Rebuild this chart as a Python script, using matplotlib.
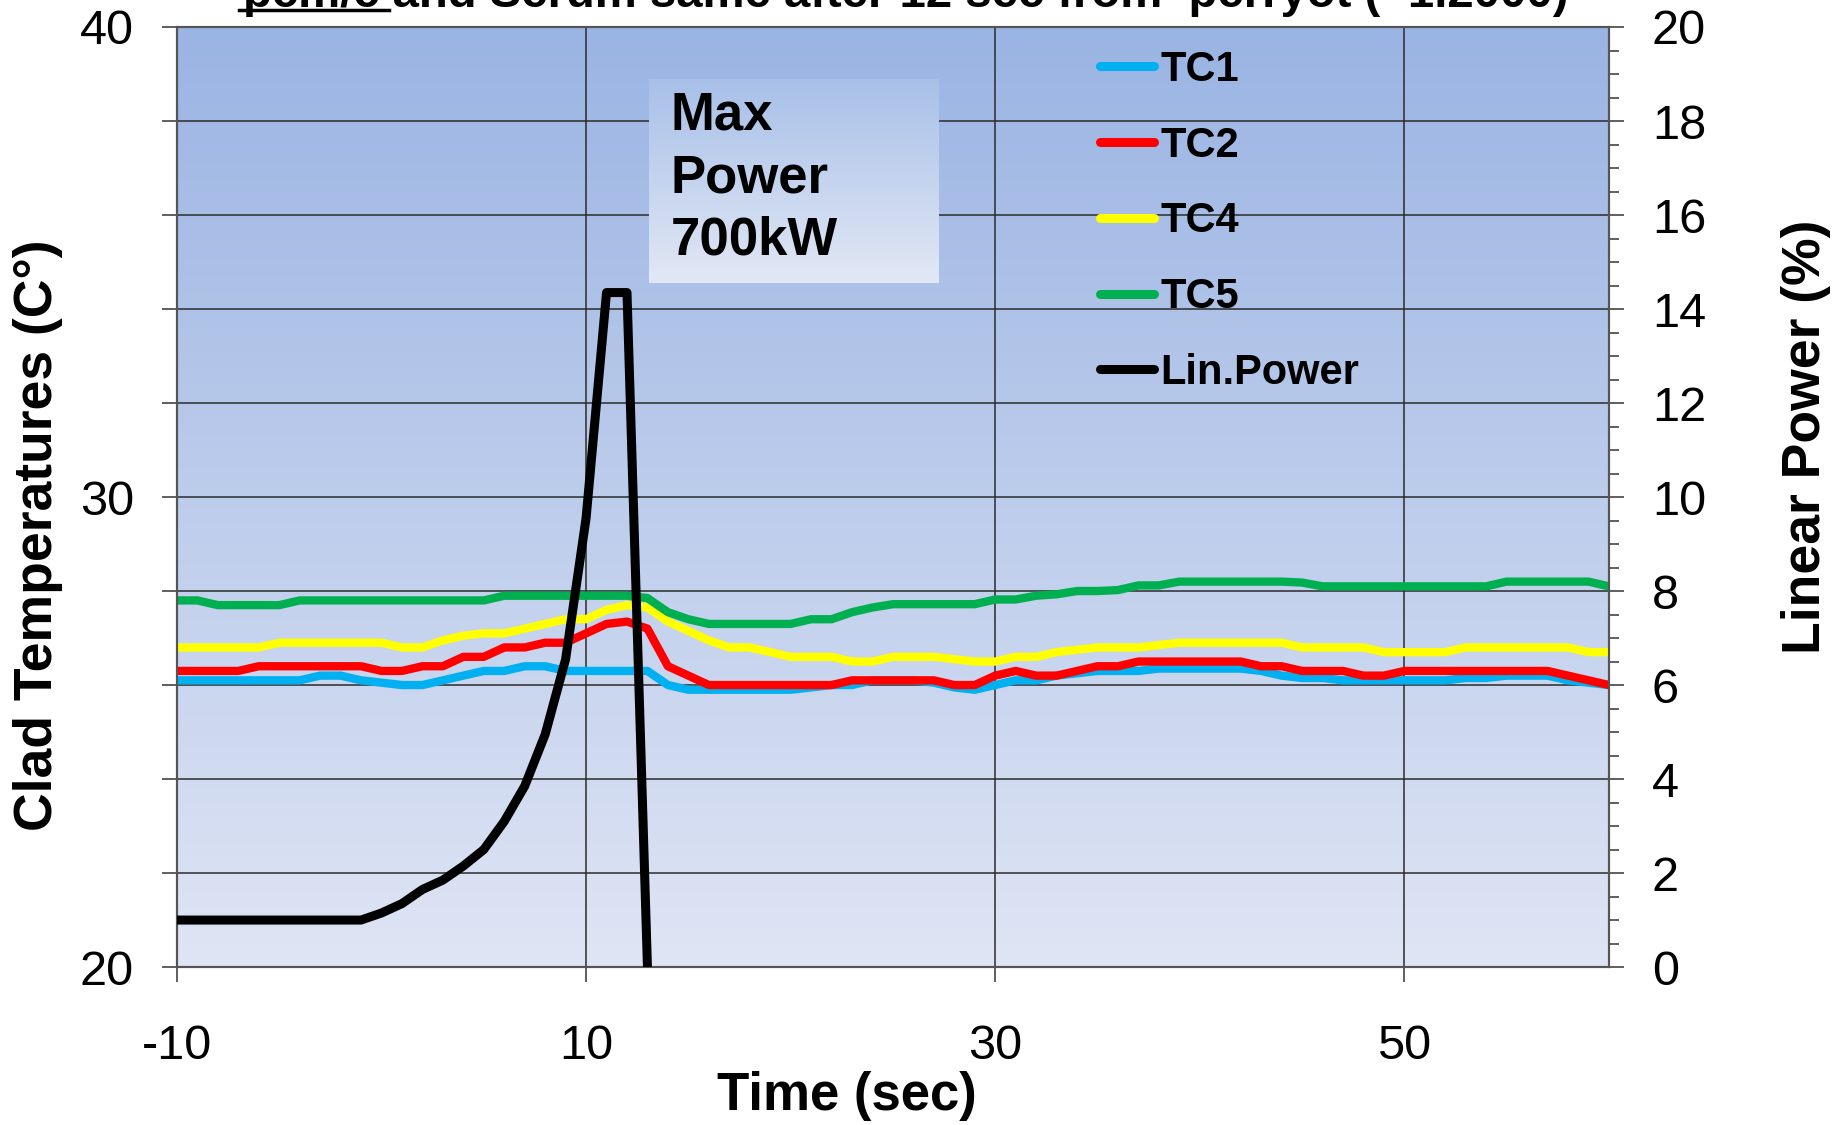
import numpy as np
import matplotlib
matplotlib.use('agg')
import matplotlib.pyplot as plt
from matplotlib.colors import LinearSegmentedColormap
from matplotlib.ticker import MultipleLocator

plt.rcParams['font.family'] = ['Liberation Sans', 'DejaVu Sans']
plt.rcParams['axes.unicode_minus'] = False

# clad temperatures, one reading per second
time_s = list(range(-10, 61))
tc1 = [26.1, 26.1, 26.1, 26.1, 26.1, 26.1, 26.1, 26.2, 26.2, 26.1,
       26.05, 26.0, 26.0, 26.1, 26.2, 26.3, 26.3, 26.4, 26.4, 26.3,
       26.3, 26.3, 26.3, 26.3, 26.0, 25.9, 25.9, 25.9, 25.9, 25.9,
       25.9, 25.95, 26.0, 26.0, 26.1, 26.1, 26.1, 26.05, 25.95, 25.9,
       26.0, 26.1, 26.1, 26.2, 26.25, 26.3, 26.3, 26.3, 26.35, 26.35,
       26.35, 26.35, 26.35, 26.3, 26.2, 26.15, 26.15, 26.1, 26.1, 26.1,
       26.1, 26.1, 26.1, 26.15, 26.15, 26.2, 26.2, 26.2, 26.1, 26.05,
       26.0]
tc2 = [26.3, 26.3, 26.3, 26.3, 26.4, 26.4, 26.4, 26.4, 26.4, 26.4,
       26.3, 26.3, 26.4, 26.4, 26.6, 26.6, 26.8, 26.8, 26.9, 26.9,
       27.1, 27.3, 27.35, 27.2, 26.4, 26.2, 26.0, 26.0, 26.0, 26.0,
       26.0, 26.0, 26.0, 26.1, 26.1, 26.1, 26.1, 26.1, 26.0, 26.0,
       26.2, 26.3, 26.2, 26.2, 26.3, 26.4, 26.4, 26.5, 26.5, 26.5,
       26.5, 26.5, 26.5, 26.4, 26.4, 26.3, 26.3, 26.3, 26.2, 26.2,
       26.3, 26.3, 26.3, 26.3, 26.3, 26.3, 26.3, 26.3, 26.2, 26.1,
       26.0]
tc4 = [26.8, 26.8, 26.8, 26.8, 26.8, 26.9, 26.9, 26.9, 26.9, 26.9,
       26.9, 26.8, 26.8, 26.95, 27.05, 27.1, 27.1, 27.2, 27.3, 27.4,
       27.4, 27.6, 27.7, 27.65, 27.35, 27.15, 26.95, 26.8, 26.8, 26.7,
       26.6, 26.6, 26.6, 26.5, 26.5, 26.6, 26.6, 26.6, 26.55, 26.5,
       26.5, 26.6, 26.6, 26.7, 26.75, 26.8, 26.8, 26.8, 26.85, 26.9,
       26.9, 26.9, 26.9, 26.9, 26.9, 26.8, 26.8, 26.8, 26.8, 26.7,
       26.7, 26.7, 26.7, 26.8, 26.8, 26.8, 26.8, 26.8, 26.8, 26.7,
       26.7]
tc5 = [27.8, 27.8, 27.7, 27.7, 27.7, 27.7, 27.8, 27.8, 27.8, 27.8,
       27.8, 27.8, 27.8, 27.8, 27.8, 27.8, 27.9, 27.9, 27.9, 27.9,
       27.9, 27.9, 27.9, 27.85, 27.55, 27.4, 27.3, 27.3, 27.3, 27.3,
       27.3, 27.4, 27.4, 27.55, 27.65, 27.72, 27.72, 27.72, 27.72, 27.72,
       27.82, 27.82, 27.9, 27.93, 28.0, 28.0, 28.02, 28.12, 28.12, 28.2,
       28.2, 28.2, 28.2, 28.2, 28.2, 28.18, 28.1, 28.1, 28.1, 28.1,
       28.1, 28.1, 28.1, 28.1, 28.1, 28.2, 28.2, 28.2, 28.2, 28.2,
       28.1]

# linear power (%)
time_power = [-10, -1, 0, 1, 2, 3, 4, 5, 6, 7, 8, 9, 10, 11, 12, 13]
lin_power = [1.0, 1.0, 1.15, 1.35, 1.65, 1.85, 2.15, 2.5, 3.1, 3.85,
             4.95, 6.55, 9.55, 14.35, 14.35, 0.0]

series = [("TC1", tc1, "#00B0F0"), ("TC2", tc2, "#FF0000"),
          ("TC4", tc4, "#FFFF00"), ("TC5", tc5, "#00B050")]

fig = plt.figure(figsize=(18.47, 11.25), dpi=100)
ax = fig.add_axes([0.0958, 0.1404, 0.7753, 0.8356])

# gradient plot background
bg = LinearSegmentedColormap.from_list('bg', ['#DFE5F4', '#9AB4E3'])
ax.imshow(np.linspace(1, 0, 256).reshape(-1, 1), cmap=bg, extent=[0, 1, 0, 1],
          transform=ax.transAxes, aspect='auto', zorder=0)

# annotation box
box = LinearSegmentedColormap.from_list('box', ['#E2E8F5', '#A8C0E8'])
ax.imshow(np.linspace(1, 0, 256).reshape(-1, 1), cmap=box,
          extent=[0.33, 0.532, 0.728, 0.944], transform=ax.transAxes,
          aspect='auto', zorder=1.5)
ax.text(0.345, 0.932, "Max\nPower\n700kW", transform=ax.transAxes, fontsize=38,
        fontweight='bold', va='top', ha='left', linespacing=1.32, zorder=1.6)

handles = []
for name, vals, col in series:
    h, = ax.plot(time_s, vals, color=col, lw=6, label=name, zorder=3)
    handles.append(h)

ax.set_xlim(-10, 60)
ax.set_ylim(20, 40)
ax.set_xticks([-10, 10, 30, 50])
ax.set_yticks([20, 30, 40])
ax.yaxis.set_minor_locator(MultipleLocator(2))
ax.set_axisbelow(True)
ax.grid(axis='y', which='both', color='#2b2b2b', lw=1.1, zorder=1)
ax.grid(axis='x', which='major', color='#2b2b2b', lw=1.1, zorder=1)
ax.tick_params(which='both', direction='out', length=11, width=1.2,
               color='#444444', labelsize=35)
ax.tick_params(axis='x', pad=30)
ax.tick_params(axis='y', pad=20)

ax2 = ax.twinx()
hp, = ax2.plot(time_power, lin_power, color='black', lw=6.5, label='Lin.Power', zorder=4)
handles.append(hp)
ax2.set_ylim(0, 20)
ax2.yaxis.set_major_locator(MultipleLocator(2))
ax2.yaxis.set_minor_locator(MultipleLocator(0.5))
ax2.tick_params(axis='y', which='major', direction='out', length=11, width=1.2,
                color='#444444', labelsize=35, pad=20)
ax2.tick_params(axis='y', which='minor', direction='out', length=7, width=1.2,
                color='#444444')

for a in (ax, ax2):
    for sp in a.spines.values():
        sp.set_color('#555555')
        sp.set_linewidth(1.5)

ax.set_xlabel("Time (sec)", fontsize=38, fontweight='bold', va='center')
ax.xaxis.set_label_coords(0.468, -0.137)
ax.set_ylabel("Clad Temperatures (C°)", fontsize=38.5, fontweight='bold', va='center')
ax.yaxis.set_label_coords(-0.097, 0.459)
ax2.set_ylabel("Linear Power (%)", fontsize=38.5, fontweight='bold', va='center')
ax2.yaxis.set_label_coords(1.1376, 0.564)

leg = ax2.legend(handles, [h.get_label() for h in handles], loc='upper left',
                 bbox_to_anchor=(0.633, 0.9936), frameon=False,
                 prop={'weight': 'bold', 'size': 30}, handlelength=1.3,
                 handletextpad=0.15, labelspacing=0.86, borderaxespad=0)
for line in leg.get_lines():
    line.set_linewidth(6.5)
    line.set_solid_capstyle('round')

# title, cut off at the top edge of the slide
fig.text(0.4905, 0.994, "pcm/c and Serum same after 12 sec from  perryot (~1.2000)",
         ha='center', va='baseline', fontsize=34, fontweight='bold')
fig.add_artist(plt.Line2D([0.1295, 0.2105], [0.9915, 0.9915], color='black', lw=2.5))

fig.savefig('out.png', dpi=100)
